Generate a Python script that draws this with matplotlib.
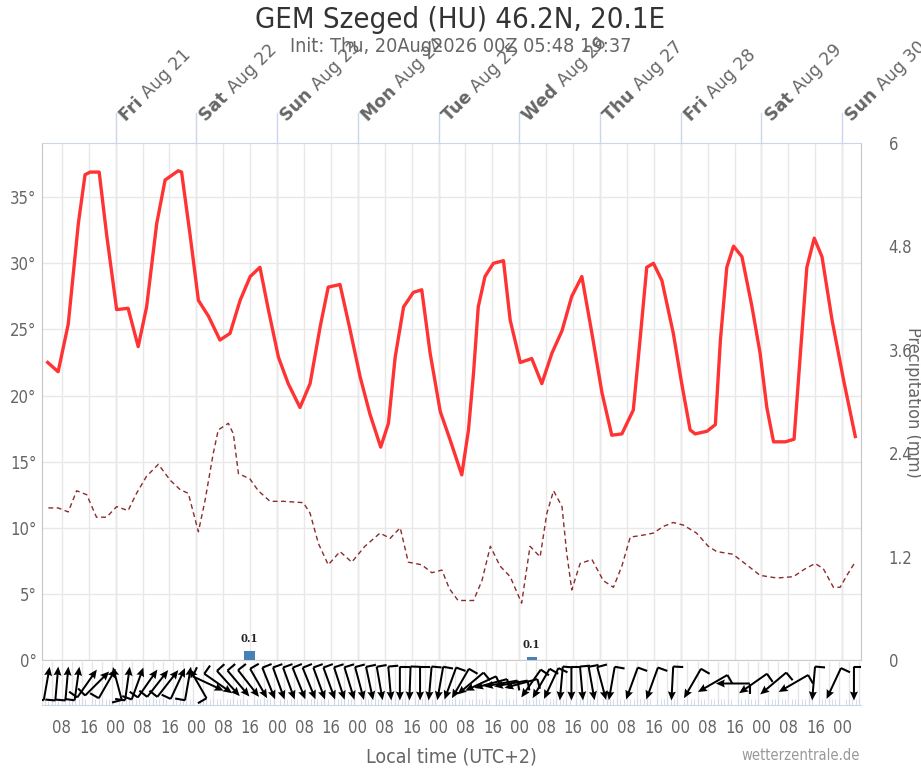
import numpy as np
import matplotlib.pyplot as plt
from matplotlib import transforms

plt.rcParams['font.family'] = ['DejaVu Sans']
plt.rcParams['font.stretch'] = 'condensed'

# hours are local time (UTC+2) counted from Thu Aug 20 00:00
temp_h = [3.8, 6.9, 9.9, 12.9, 14.9, 16.4, 19.1, 21.3, 24.3, 27.7, 30.7, 33.2, 36.2, 38.7,
          42.6, 43.6, 46.1, 48.6, 51.6, 55.0, 58.0, 61.0, 64.0, 66.9, 69.4, 72.4, 75.3,
          78.8, 81.8, 84.8, 87.2, 90.7, 93.5, 96.7, 99.6, 102.8, 105.1, 107.1, 109.6,
          112.5, 115.0, 117.5, 120.5, 123.5, 126.9, 128.9, 130.4, 131.8, 133.8, 136.3,
          139.3, 141.3, 144.3, 147.7, 150.7, 153.7, 156.7, 159.6, 162.6, 165.6, 168.6,
          171.5, 174.5, 177.9, 179.9, 181.9, 183.9, 186.4, 189.8, 192.3, 194.8, 196.3,
          199.8, 202.3, 203.8, 205.7, 207.7, 210.2, 213.2, 215.6, 217.6, 219.6, 223.1,
          225.7, 227.5, 229.5, 231.7, 234.0, 237.0, 240.4, 243.9]
temp_c = [22.5, 21.8, 25.4, 33.0, 36.7, 36.9, 36.9, 32.2, 26.5, 26.6, 23.7, 26.7, 33.0, 36.3,
          37.0, 36.9, 32.2, 27.2, 26.0, 24.2, 24.7, 27.2, 29.0, 29.7, 26.5, 22.9, 20.9,
          19.1, 20.9, 25.2, 28.2, 28.4, 25.2, 21.4, 18.6, 16.1, 17.9, 22.9, 26.7,
          27.8, 28.0, 23.2, 18.8, 16.6, 14.0, 17.4, 21.7, 26.7, 29.0, 30.0,
          30.2, 25.7, 22.5, 22.8, 20.9, 23.2, 24.9, 27.5, 29.0, 24.7, 20.2,
          17.0, 17.1, 18.9, 24.2, 29.7, 30.0, 28.7, 24.7, 20.9, 17.4, 17.1,
          17.3, 17.8, 24.2, 29.7, 31.3, 30.5, 26.7, 23.2, 19.1, 16.5, 16.5,
          16.7, 22.9, 29.7, 31.9, 30.5, 25.7, 21.2, 16.9]

dew_h = [4.0, 6.9, 9.9, 12.4, 15.4, 18.3, 21.3, 24.3, 27.7, 30.2, 33.2, 36.7, 40.2, 43.1,
         45.6, 48.6, 50.6, 53.0, 54.5, 57.5, 59.0, 60.5, 63.9, 66.4, 69.9, 73.9, 79.8,
         81.8, 84.3, 87.2, 90.7, 94.2, 98.1, 102.6, 105.6, 108.6, 111.0, 115.0, 118.0,
         121.0, 123.2, 125.8, 130.4, 132.9, 135.4, 138.3, 141.3, 144.7, 147.2, 150.2,
         152.2, 154.2, 156.7, 158.1, 159.6, 162.1, 165.6, 169.0, 172.0, 174.5, 177.0,
         179.9, 183.9, 186.8, 189.8, 192.8, 196.7, 200.2, 202.7, 207.5, 212.1, 215.6,
         220.6, 225.5, 229.0, 232.0, 234.4, 237.4, 239.4, 241.4, 243.6]
dew_c = [11.5, 11.5, 11.2, 12.8, 12.5, 10.8, 10.8, 11.6, 11.3, 12.6, 13.9, 14.8, 13.6, 12.9,
         12.6, 9.7, 12.1, 15.6, 17.4, 17.9, 17.1, 14.1, 13.7, 12.8, 12.0, 12.0, 11.9,
         11.1, 8.8, 7.2, 8.2, 7.4, 8.6, 9.6, 9.2, 10.0, 7.4, 7.2, 6.6,
         6.8, 5.4, 4.5, 4.5, 6.0, 8.6, 7.1, 6.3, 4.3, 8.6, 7.8,
         11.1, 12.8, 11.6, 8.1, 5.3, 7.3, 7.6, 6.0, 5.5, 7.1, 9.3,
         9.4, 9.6, 10.1, 10.4, 10.2, 9.6, 8.6, 8.2, 8.0, 7.1, 6.4,
         6.2, 6.3, 6.9, 7.3, 6.9, 5.5, 5.5, 6.4, 7.3]

prec_h = [63.8, 147.7]
prec_mm = [0.1, 0.04]
prec_lbl = ["0.1", "0.1"]

# wind: 3-hourly, then 6-hourly; direction the wind comes from (deg)
wind_h = list(np.arange(3.5, 172, 3)) + list(np.arange(177.5, 244, 6))
wind_dir = [190, 185, 185, 188, 215, 225, 210, 165, 188, 200, 215, 218, 218, 205, 190, 150,
            295, 305, 318, 320, 322, 330, 338, 340, 340, 338, 338, 340, 340, 342, 343, 345,
            348, 350, 355, 0, 2, 0, 5, 10, 20, 30, 50, 65, 75, 80, 80, 75, 35, 30, 25, 5,
            0, 355, 350, 345, 10,
            20, 20, 3, 30, 60, 90, 55, 50, 60, 5, 25, 0]

day_h = [24, 48, 72, 96, 120, 144, 168, 192, 216, 240]
day_wd = ["Fri", "Sat", "Sun", "Mon", "Tue", "Wed", "Thu", "Fri", "Sat", "Sun"]
day_dt = ["Aug 21", "Aug 22", "Aug 23", "Aug 24", "Aug 25", "Aug 26", "Aug 27",
          "Aug 28", "Aug 29", "Aug 30"]

W, H = 921, 768
x0, x1 = 2.1, 245.6
grey = '#666666'

fig = plt.figure(figsize=(W / 100, H / 100), dpi=100)
ax = fig.add_axes([42 / W, 108 / H, 819 / W, 517 / H])
ax.set_xlim(x0, x1)
ax.set_ylim(0, 39.1)

# grid
ax.set_yticks(range(0, 40, 5))
ax.set_yticklabels([f"{v}°" for v in range(0, 40, 5)])
ax.set_xticks(np.arange(8, 245, 8))
ax.grid(True, color='#e8e8e8', lw=1)
for d in day_h:
    ax.axvline(d, color='#d9d9d9', lw=1, zorder=0.5)
ax.tick_params(axis='x', labelbottom=False, length=0)
ax.tick_params(axis='y', length=0, labelsize=12, labelcolor=grey, pad=4)
for s in ['left', 'right']:
    ax.spines[s].set_color('#c6c6c6')
ax.spines['bottom'].set_color('#cccccc')
ax.spines['top'].set_color('#ccd6eb')

ax.plot(temp_h, temp_c, color='#ff3333', lw=2.4, solid_joinstyle='round', zorder=3)
ax.plot(dew_h, dew_c, color='#8b2b2b', lw=1.0, dashes=(3.5, 2.5), zorder=3)

# top day axis: bold weekday, then date
renderer = fig.canvas.get_renderer()
top_tr = ax.get_xaxis_transform()
for d, wd, dt in zip(day_h, day_wd, day_dt):
    ax.plot([d, d], [1.0, 1.0 + 30 / 517], color='#ccd6eb', lw=1,
            transform=top_tr, clip_on=False)
    ax.text(d + 3.0, 1.041, wd + " ", rotation=45, rotation_mode='anchor',
            ha='left', va='baseline', fontsize=12.5, fontweight='bold',
            fontstretch='normal', color=grey, transform=top_tr)
    tmp = fig.text(0, 0, wd + " ", fontsize=12.5, fontweight='bold', fontstretch='normal')
    w = tmp.get_window_extent(renderer).width
    tmp.remove()
    off = transforms.offset_copy(top_tr, fig=fig, x=w * np.cos(np.pi / 4),
                                 y=w * np.sin(np.pi / 4), units='dots')
    ax.text(d + 3.0, 1.041, dt, rotation=45, rotation_mode='anchor', ha='left',
            va='baseline', fontsize=12.5, fontstretch='normal', color=grey, transform=off)

# precipitation
ax2 = ax.twinx()
ax2.set_ylim(0, 6)
ax2.set_yticks([0, 1.2, 2.4, 3.6, 4.8, 6])
ax2.set_yticklabels([f"{v:g}" for v in [0, 1.2, 2.4, 3.6, 4.8, 6]])
ax2.tick_params(axis='y', length=0, labelsize=12, labelcolor=grey, pad=20)
for s in ax2.spines.values():
    s.set_visible(False)
ax2.bar(prec_h, prec_mm, width=3.1, color='#4682b4', zorder=3)
for h, p, lbl in zip(prec_h, prec_mm, prec_lbl):
    ax2.annotate(lbl, (h, p), xytext=(0, 5), textcoords='offset points', ha='center',
                 va='bottom', fontsize=8, fontweight='bold', family='DejaVu Serif',
                 color='#222222')

# wind arrows
axw = fig.add_axes([42 / W, 63 / H, 819 / W, 43 / H])
axw.set_xlim(x0, x1)
axw.set_ylim(0, 43)
axw.set_facecolor('none')
for s in ['left', 'right', 'top']:
    axw.spines[s].set_visible(False)
axw.spines['bottom'].set_color('#ccd6eb')
axw.set_yticks([])
for g in np.arange(2, 246, 3):
    axw.axvline(g, color='#e6e6e6', lw=1, zorder=0)
axw.set_xticks(np.arange(8, 245, 8))
axw.set_xticklabels(["%02d" % (v % 24) for v in np.arange(8, 245, 8)])
axw.set_xticks(np.arange(3, 246, 1), minor=True)
axw.tick_params(axis='x', which='major', length=0, pad=10, labelsize=12, labelcolor=grey)
axw.tick_params(axis='x', which='minor', direction='in', length=4, color='#ccd6eb')

L = 34
yc = 21.5
pxh = 819 / (x1 - x0)
hd = np.radians(np.array(wind_dir) + 180.0)
u = L * np.sin(hd)
v = L * np.cos(hd)
axw.quiver(wind_h, np.full(len(wind_h), yc), u, v, angles='uv', scale_units='dots',
           scale=1, pivot='middle', units='dots', width=2, headwidth=4,
           headlength=4.5, headaxislength=4, color='black', zorder=3)
for t, a in zip(wind_h, hd):
    tx = t - (L / 2) * np.sin(a) / pxh
    ty = yc - (L / 2) * np.cos(a)
    b = a - np.pi / 2
    axw.plot([tx, tx + 10 * np.sin(b) / pxh], [ty, ty + 10 * np.cos(b)],
             color='black', lw=1.5, solid_capstyle='butt', zorder=3)

# texts
fig.text(0.5, 1 - 20 / H, "GEM Szeged (HU) 46.2N, 20.1E", ha='center', va='center',
         fontsize=21, color='#333333')
fig.text(0.5, 1 - 47 / H, "Init: Thu, 20Aug2026 00Z 05:48 19:37", ha='center',
         va='center', fontsize=14.2, color=grey)
fig.text(451.5 / W, 1 - 757 / H, "Local time (UTC+2)", ha='center', va='center',
         fontsize=14, color=grey)
fig.text(860 / W, 1 - 755 / H, "wetterzentrale.de", ha='right', va='center',
         fontsize=10.6, color='#999999')
fig.text(913 / W, 1 - 402 / H, "Precipitation (mm)", rotation=270, ha='center',
         va='center', fontsize=13, color=grey)

fig.savefig("out.png", dpi=100)
